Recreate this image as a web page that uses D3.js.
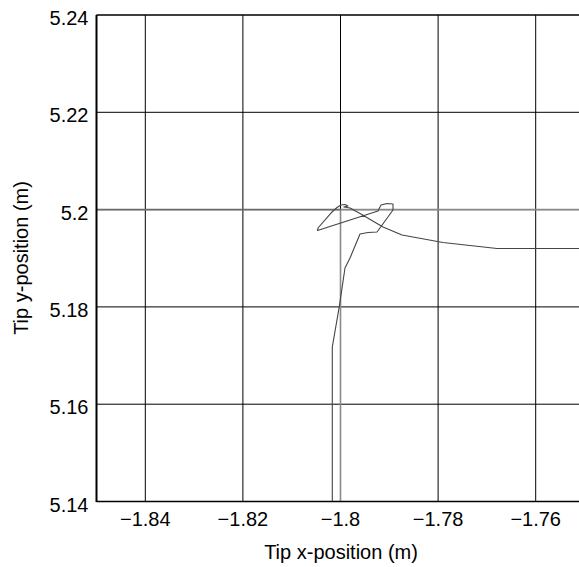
<!DOCTYPE html>
<html><head><meta charset="utf-8">
<script src="https://cdn.jsdelivr.net/npm/d3@7"></script>
<style>body{margin:0;background:#fff}svg{display:block}text{font-family:"Liberation Sans",Arial,sans-serif;fill:#000}</style>
</head><body><svg id="c" width="579" height="567"></svg>
<script>
const xTicks = [-1.84, -1.82, -1.80, -1.78, -1.76];
const xTickLabels = ["\u22121.84", "\u22121.82", "\u22121.8", "\u22121.78", "\u22121.76"];
const yTicks = [5.14, 5.16, 5.18, 5.20, 5.22, 5.24];
const yTickLabels = ["5.14", "5.16", "5.18", "5.2", "5.22", "5.24"];
const tipX = [-1.80168,-1.80168,-1.80025,-1.79908,-1.79805,-1.79600,-1.79436,-1.79252,-1.78924,-1.78924,-1.79047,-1.79170,-1.79232,-1.80471,-1.80461,-1.80174,-1.80072,-1.79990,-1.79908,-1.79846,-1.79930,-1.79805,-1.79600,-1.79129,-1.78740,-1.77900,-1.76793,-1.75000];
const tipY = [5.14000,5.17176,5.18004,5.18800,5.19005,5.19498,5.19529,5.19540,5.19992,5.20115,5.20125,5.20095,5.19971,5.19570,5.19622,5.19951,5.20043,5.20095,5.20105,5.20074,5.20053,5.20033,5.19920,5.19642,5.19478,5.19324,5.19200,5.19200];
const refX = [-1.80, -1.80, -1.75];
const refY = [5.14, 5.20, 5.20];
const refLeftX = [-1.85, -1.80];
const refLeftY = [5.20, 5.20];

const svg = d3.select("#c");
const x = d3.scaleLinear().domain([-1.85, -1.75]).range([96.5, 584.5]);
const y = d3.scaleLinear().domain([5.14, 5.24]).range([501.5, 15]);

// grid
svg.append("g").selectAll("line").data(xTicks).join("line")
  .attr("x1", d => x(d)).attr("x2", d => x(d)).attr("y1", y(5.24)).attr("y2", y(5.14))
  .attr("stroke", "#000").attr("stroke-width", 1);
svg.append("g").selectAll("line").data(yTicks).join("line")
  .attr("x1", x(-1.85)).attr("x2", 579).attr("y1", d => y(d)).attr("y2", d => y(d))
  .attr("stroke", "#000").attr("stroke-width", 1);

const line = d3.line().x(d => x(d[0])).y(d => y(d[1]));
// reference path (light gray)
svg.append("path").datum(d3.zip(refX, refY)).attr("d", line)
  .attr("fill", "none").attr("stroke", "#8a8a8a").attr("stroke-width", 1.6);
svg.append("path").datum(d3.zip(refLeftX, refLeftY)).attr("d", line)
  .attr("fill", "none").attr("stroke", "#6a6a6a").attr("stroke-width", 1.6);
// tip path
svg.append("path").datum(d3.zip(tipX, tipY)).attr("d", line)
  .attr("fill", "none").attr("stroke", "#444").attr("stroke-width", 1.1).attr("stroke-linejoin", "round");

// axes frame
svg.append("line").attr("x1", x(-1.85)).attr("x2", x(-1.85)).attr("y1", y(5.24)).attr("y2", y(5.14) + 0.5)
  .attr("stroke", "#000").attr("stroke-width", 2);
svg.append("line").attr("x1", x(-1.85)).attr("x2", 579).attr("y1", y(5.14)).attr("y2", y(5.14))
  .attr("stroke", "#000").attr("stroke-width", 1.5);
svg.append("line").attr("x1", x(-1.85)).attr("x2", 579).attr("y1", y(5.24)).attr("y2", y(5.24))
  .attr("stroke", "#000").attr("stroke-width", 1.2);

// tick labels
svg.append("g").selectAll("text").data(xTicks).join("text")
  .attr("x", d => x(d)).attr("y", 525.5).attr("text-anchor", "middle").attr("font-size", 20)
  .text((d, i) => xTickLabels[i]);
svg.append("g").selectAll("text").data(yTicks).join("text")
  .attr("x", 88.5).attr("y", d => y(d) + 10).attr("text-anchor", "end").attr("font-size", 20)
  .text((d, i) => yTickLabels[i]);

svg.append("text").attr("x", 341).attr("y", 559).attr("text-anchor", "middle").attr("font-size", 20)
  .text("Tip x-position (m)");
svg.append("text").attr("transform", "translate(28,258) rotate(-90)").attr("text-anchor", "middle").attr("font-size", 20)
  .text("Tip y-position (m)");
</script></body></html>
